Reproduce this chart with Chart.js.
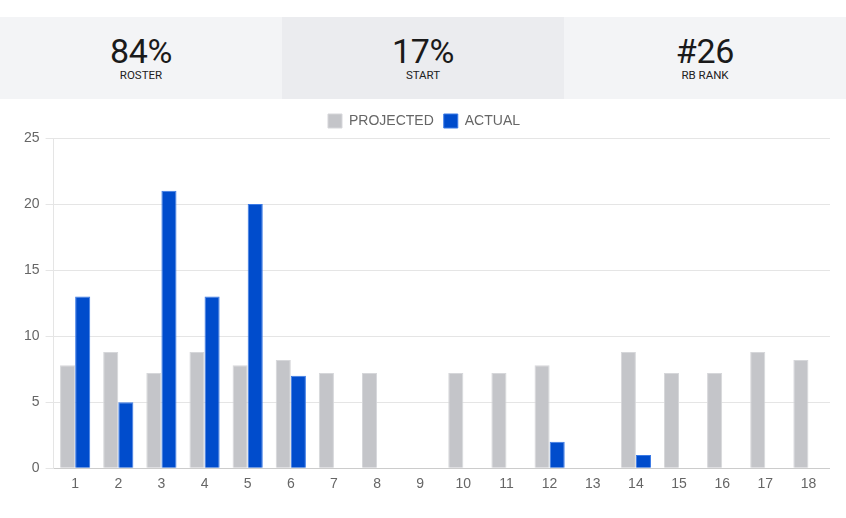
<!DOCTYPE html>
<html>
<head>
<meta charset="utf-8">
<script src="https://cdn.jsdelivr.net/npm/chart.js@4"></script>
<style>
  html, body { margin: 0; padding: 0; background: #fff; width: 846px; height: 518px; overflow: hidden; }
  .stats { position: absolute; left: 0; top: 17px; width: 846px; height: 82px; display: flex; }
  .stat { flex: 1; text-align: center; background: #f3f4f6; }
  .stat.mid { background: #ebecef; }
  .num { font-family: Roboto, "Noto Sans", sans-serif; font-size: 34px; color: #1a1a1a; margin-top: 15px; line-height: 38px; letter-spacing: -0.3px; }
  .lbl { font-family: Roboto, "Noto Sans", sans-serif; font-size: 11.5px; color: #222; font-weight: 400; line-height: 13px; margin-top: -1px; }
  .wrap { position: absolute; left: 18px; top: 104px; width: 812px; height: 397px; }
</style>
</head>
<body>
<div class="stats">
  <div class="stat"><div class="num">84%</div><div class="lbl">ROSTER</div></div>
  <div class="stat mid"><div class="num">17%</div><div class="lbl">START</div></div>
  <div class="stat"><div class="num">#26</div><div class="lbl">RB RANK</div></div>
</div>
<div class="wrap"><canvas id="c"></canvas></div>
<script>
const weeks = ["1","2","3","4","5","6","7","8","9","10","11","12","13","14","15","16","17","18"];
const projected = [7.8, 8.8, 7.2, 8.8, 7.8, 8.2, 7.2, 7.2, null, 7.2, 7.2, 7.8, null, 8.8, 7.2, 7.2, 8.8, 8.2];
const actual = [13, 5, 21, 13, 20, 7, null, null, null, null, null, 2, null, 1, null, null, null, null];
const yTicks = [0, 5, 10, 15, 20, 25];

new Chart(document.getElementById('c'), {
  type: 'bar',
  data: {
    labels: weeks,
    datasets: [
      { label: 'PROJECTED', data: projected, backgroundColor: '#c4c5c9', borderColor: '#d6d7da', borderWidth: 1 },
      { label: 'ACTUAL', data: actual, backgroundColor: '#004ccc', borderColor: '#3b7ae6', borderWidth: 1 }
    ]
  },
  options: {
    responsive: true,
    maintainAspectRatio: false,
    animation: false,
    datasets: { bar: { barPercentage: 1.0, categoryPercentage: 0.7 } },
    plugins: {
      tooltip: { enabled: false },
      legend: {
        position: 'top',
        labels: { color: '#666', font: { family: 'Arial, "Liberation Sans", sans-serif', size: 14 }, boxWidth: 14, boxHeight: 14, padding: 10 }
      }
    },
    scales: {
      x: {
        grid: { display: false, drawTicks: false },
        border: { color: '#ccc' },
        ticks: { color: '#666', padding: 8, font: { family: 'Arial, "Liberation Sans", sans-serif', size: 14 } }
      },
      y: {
        min: 0, max: 25,
        afterBuildTicks: (ax) => { ax.ticks = yTicks.map(v => ({ value: v })); },
        grid: { color: '#e5e5e5' },
        border: { color: '#e5e5e5' },
        ticks: { color: '#666', padding: 6, font: { family: 'Arial, "Liberation Sans", sans-serif', size: 14 } }
      }
    }
  }
});
</script>
</body>
</html>
